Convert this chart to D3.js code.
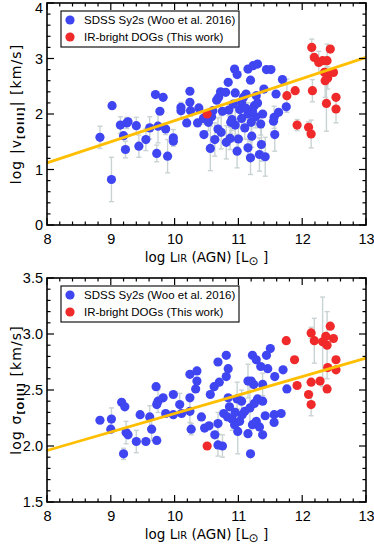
<!DOCTYPE html>
<html><head><meta charset="utf-8">
<script src="https://cdn.jsdelivr.net/npm/d3@7"></script>
<style>body{margin:0;background:#fff}svg{display:block}text{font-family:"Liberation Sans",Arial,sans-serif}</style>
</head><body>
<script>
// ---------- DATA ----------
const xTicks = [8, 9, 10, 11, 12, 13];
const topYTicks = [0, 1, 2, 3, 4];
const botYTicks = [1.5, 2.0, 2.5, 3.0, 3.5];
const legendLabels = ["SDSS Sy2s (Woo et al. 2016)", "IR-bright DOGs (This work)"];

// top panel: log |v[OIII]|
const topBlueX = [8.83,9.01,9.02,9.15,9.20,9.23,9.25,9.27,9.40,9.44,9.55,9.61,9.70,9.74,9.72,9.77,9.82,9.86,9.89,9.98,9.98,10.10,10.10,10.19,10.24,10.24,10.25,10.36,10.38,10.45,10.46,10.53,10.56,10.60,10.63,10.66,10.69,10.68,10.73,10.72,10.80,10.81,10.84,10.85,10.87,10.90,10.94,10.98,10.98,11.00,10.95,11.02,11.05,11.08,11.10,11.12,11.15,11.15,11.15,11.19,11.19,11.20,11.21,11.23,11.25,11.28,11.27,11.30,11.30,11.33,11.36,11.38,11.42,11.44,11.51,11.55,11.56,11.57,11.59,11.63,11.69,11.75,10.75,10.88,11.05,11.12,10.92,11.35,11.22,10.58,10.95,11.40];
const topBlueY = [1.58,0.82,2.15,1.80,1.61,1.36,1.84,1.86,1.79,1.42,1.54,1.75,2.35,1.78,1.29,2.05,2.30,1.73,1.24,1.57,1.51,2.12,2.06,1.84,2.41,2.21,2.06,1.84,2.11,1.92,1.63,1.85,1.38,2.06,1.54,2.25,2.30,1.73,1.67,2.40,2.39,1.49,2.57,2.07,1.56,1.90,2.81,2.71,1.33,1.55,1.80,2.08,1.92,2.30,1.75,2.36,2.81,1.39,2.00,2.61,1.21,1.85,1.60,2.87,2.15,2.33,1.95,2.90,2.20,1.27,1.45,2.00,1.23,2.80,2.80,1.87,1.94,1.63,2.36,2.03,2.62,2.13,2.05,1.85,2.20,2.10,2.18,1.82,2.05,1.95,2.38,2.45];
const topBlueErr = [0.2,0.4,0,0.15,0,0.15,0.1,0,0.15,0.2,0.2,0.2,0,0.3,0.15,0,0,0.1,0.3,0.15,0,0,0.15,0,0,0,0.1,0,0,0.1,0,0.15,0.4,0,0.3,0,0,0.2,0.3,0,0,0.3,0,0.1,0.2,0.2,0,0,0.3,0.2,0.3,0,0.15,0,0.2,0,0,0.15,0.2,0,0.3,0.25,0.2,0,0,0,0.2,0,0,0.3,0.3,0,0.35,0,0,0,0.2,0.3,0,0,0,0,0,0.2,0,0.2,0,0.2,0,0,0,0];
const topRedX = [12.15,12.19,12.26,12.32,12.39,12.44,12.35,12.40,12.49,12.36,11.89,12.16,11.76,12.53,12.53,12.38,10.51,11.92,12.10,12.14];
const topRedY = [3.20,3.02,2.93,2.96,2.96,3.17,2.75,2.65,2.75,2.60,2.42,2.42,2.33,2.30,2.09,2.19,2.00,1.80,1.76,1.64];
const topRedErr = [0.15,0,0.2,0,0.3,0,0,0.2,0,0.3,0,0.2,0.3,0,0.25,0.5,0,0.1,0.1,0.25];
const topFitX = [8, 13];
const topFitY = [1.12, 3.02];

// bottom panel: log sigma[OIII]
const botBlueX = [8.83,9.01,9.00,9.17,9.22,9.24,9.27,9.20,9.40,9.46,9.55,9.61,9.64,9.72,9.72,9.71,9.74,9.82,9.86,9.98,9.98,10.08,10.11,10.24,10.24,10.24,10.26,10.33,10.35,10.35,10.42,10.47,10.54,10.56,10.62,10.63,10.68,10.68,10.68,10.70,10.75,10.77,10.81,10.81,10.84,10.84,10.86,10.83,10.90,10.94,10.98,10.99,11.02,11.06,11.10,11.15,11.18,11.19,11.20,11.22,11.22,11.24,11.28,11.28,11.30,11.33,11.35,11.38,11.38,11.38,11.42,11.44,11.46,11.50,11.56,11.56,11.57,11.67,11.70,11.76,11.15,11.25,11.05,10.95];
const botBlueY = [2.23,2.24,2.15,2.39,2.35,2.12,2.10,1.93,2.04,2.28,2.04,2.26,2.15,2.05,2.37,2.53,2.40,2.43,2.29,2.46,2.28,2.37,2.29,2.64,2.43,2.31,2.15,2.51,2.67,2.58,2.26,2.16,2.18,2.46,2.53,2.10,2.75,2.20,2.01,2.57,2.00,2.29,2.81,2.62,2.69,2.43,2.35,2.26,2.24,2.19,2.42,2.13,2.22,2.28,2.31,2.11,2.34,1.93,2.58,2.81,2.19,2.55,2.77,2.22,2.42,2.17,2.71,2.55,2.40,2.10,2.27,2.81,2.69,2.87,2.28,2.21,2.62,2.29,2.68,2.51,2.58,2.38,2.40,2.30];
const botBlueErr = [0,0.1,0,0,0,0.1,0,0.05,0.1,0,0,0.1,0.1,0,0,0,0.1,0,0,0,0,0.1,0,0,0,0.1,0.05,0,0,0,0,0,0,0,0,0,0,0.1,0.1,0,0.1,0,0,0,0,0,0,0,0.1,0,0.15,0.2,0,0,0,0,0.2,0,0,0,0,0,0,0,0,0,0,0.1,0,0,0,0,0,0,0,0,0,0,0,0,0.15,0,0.1,0];
const botRedX = [11.75,11.88,11.92,12.14,12.19,12.32,12.37,12.44,12.49,12.39,12.53,12.53,12.40,12.14,12.28,12.39,12.10,12.14,10.51];
const botRedY = [2.94,2.77,2.54,3.01,2.94,2.93,2.98,3.07,2.96,2.90,2.77,2.68,2.70,2.57,2.58,2.51,2.46,2.37,2.00];
const botRedErr = [0,0,0,0.05,0.2,0.4,0,0,0,0.3,0,0,0,0,0,0,0,0.1,0];
const botFitX = [8, 13];
const botFitY = [1.96, 2.785];

// ---------- DRAW ----------
const W = 374, H = 545;
const svg = d3.select("body").append("svg").attr("width", W).attr("height", H);
const BLUE = "#3f45f0", RED = "#f02a2a", ERR = "#c9d3d3", FIT = "#ffbf00";
const TFONT = '"DejaVu Sans",Verdana,sans-serif';

function panel(opt) {
  const x = d3.scaleLinear().domain([8, 13]).range([47, 366]);
  const y = d3.scaleLinear().domain(opt.ydom).range([opt.y1, opt.y0]);
  const g = svg.append("g");

  // error bars
  const eg = g.append("g").attr("stroke", ERR).attr("stroke-width", 1.4).attr("fill", "none");
  function errs(X, Y, E) {
    X.forEach((xv, i) => {
      if (!E[i]) return;
      const px = x(xv), ya = y(Y[i] + E[i]), yb = y(Y[i] - E[i]);
      eg.append("line").attr("x1", px).attr("x2", px).attr("y1", ya).attr("y2", yb);
      eg.append("line").attr("x1", px - 2.5).attr("x2", px + 2.5).attr("y1", ya).attr("y2", ya);
      eg.append("line").attr("x1", px - 2.5).attr("x2", px + 2.5).attr("y1", yb).attr("y2", yb);
    });
  }
  errs(opt.bx, opt.by, opt.be);
  errs(opt.rx, opt.ry, opt.re);

  // points
  g.append("g").selectAll("circle").data(opt.bx).join("circle")
    .attr("cx", (d) => x(d)).attr("cy", (d, i) => y(opt.by[i])).attr("r", 4.6).attr("fill", BLUE);
  g.append("g").selectAll("circle").data(opt.rx).join("circle")
    .attr("cx", (d) => x(d)).attr("cy", (d, i) => y(opt.ry[i])).attr("r", 4.6).attr("fill", RED);

  // fit line
  g.append("line").attr("x1", x(opt.fx[0])).attr("x2", x(opt.fx[1]))
    .attr("y1", y(opt.fy[0])).attr("y2", y(opt.fy[1]))
    .attr("stroke", FIT).attr("stroke-width", 2.8);

  // axes (inward ticks, all 4 sides)
  const minorX = d3.range(8, 13.001, 0.2);
  const minorY = d3.range(opt.ydom[0], opt.ydom[1] + 1e-6, opt.minor);
  const ax = g.append("g").attr("stroke", "#000").attr("stroke-width", 1.2);
  minorX.forEach(v => {
    const isMaj = Math.abs(v - Math.round(v)) < 1e-6;
    const L = isMaj ? 7 : 3.5;
    ax.append("line").attr("x1", x(v)).attr("x2", x(v)).attr("y1", opt.y1).attr("y2", opt.y1 - L);
    ax.append("line").attr("x1", x(v)).attr("x2", x(v)).attr("y1", opt.y0).attr("y2", opt.y0 + L);
  });
  minorY.forEach(v => {
    const isMaj = opt.yticks.some(t => Math.abs(t - v) < 1e-6);
    const L = isMaj ? 7 : 3.5;
    ax.append("line").attr("x1", 47).attr("x2", 47 + L).attr("y1", y(v)).attr("y2", y(v));
    ax.append("line").attr("x1", 366).attr("x2", 366 - L).attr("y1", y(v)).attr("y2", y(v));
  });
  g.append("rect").attr("x", 47).attr("y", opt.y0).attr("width", 319).attr("height", opt.y1 - opt.y0)
    .attr("fill", "none").attr("stroke", "#000").attr("stroke-width", 1.6);

  // tick labels via d3 axes (tick lines hidden)
  const xa = d3.axisBottom(x).tickValues(xTicks).tickSize(0).tickPadding(9).tickFormat(d3.format("d"));
  const xg = g.append("g").attr("transform", `translate(0,${opt.y1})`).call(xa);
  xg.select(".domain").remove();
  xg.selectAll("text").attr("font-size", 14.5).attr("fill", "#000").style("font-family", '"Liberation Sans",Arial,sans-serif');
  const ya = d3.axisLeft(y).tickValues(opt.yticks).tickSize(0).tickPadding(4).tickFormat(opt.yfmt);
  const yg = g.append("g").attr("transform", `translate(47,0)`).call(ya);
  yg.select(".domain").remove();
  yg.selectAll("text").attr("font-size", 14.5).attr("fill", "#000").style("font-family", '"Liberation Sans",Arial,sans-serif');
  yg.selectAll("text").filter(d => d === opt.ydom[1]).attr("dy", opt.topDy);

  // x title
  const xt = g.append("text").attr("x", 206.5).attr("y", opt.y1 + 37).attr("text-anchor", "middle")
    .attr("font-size", 13.5).style("font-family", TFONT);
  xt.append("tspan").text("log  L");
  xt.append("tspan").attr("font-size", 10).text("IR");
  xt.append("tspan").text(" (AGN)  [L");
  xt.append("tspan").attr("font-size", 12).attr("dy", 3).text("\u2299");
  xt.append("tspan").attr("dy", -3).text(" ]");

  // y title
  const yc = (opt.y0 + opt.y1) / 2;
  const yt = g.append("text").attr("transform", `translate(21,${yc}) rotate(-90)`).attr("text-anchor", "middle")
    .attr("font-size", 14).attr("letter-spacing", 1.1).style("font-family", TFONT);
  yt.append("tspan").text(opt.ylabA);
  yt.append("tspan").attr("font-size", 9).attr("font-weight", "bold").attr("dy", 3).text("[OIII]");
  yt.append("tspan").attr("dy", -3).text(opt.ylabB);

  // legend
  const lg = g.append("g");
  lg.append("rect").attr("x", 61).attr("y", opt.y0 + 8).attr("width", 178).attr("height", 36)
    .attr("fill", "#fff").attr("stroke", "#000").attr("stroke-width", 1.1);
  [BLUE, RED].forEach((c, i) => {
    const cy = opt.y0 + 17 + i * 17;
    lg.append("circle").attr("cx", 70).attr("cy", cy).attr("r", 4.6).attr("fill", c);
    lg.append("text").attr("x", 84).attr("y", cy + 4).attr("font-size", 11.5).text(legendLabels[i]);
  });
}

panel({ ydom: [0, 4], y0: 3, y1: 225, yticks: topYTicks, minor: 0.2, yfmt: d3.format("d"), topDy: "0.62em",
  bx: topBlueX, by: topBlueY, be: topBlueErr, rx: topRedX, ry: topRedY, re: topRedErr,
  fx: topFitX, fy: topFitY, ylabA: "log  |v", ylabB: "|  [km/s]" });
panel({ ydom: [1.5, 3.5], y0: 278, y1: 502, yticks: botYTicks, minor: 0.1, yfmt: d3.format(".1f"), topDy: "0.32em",
  bx: botBlueX, by: botBlueY, be: botBlueErr, rx: botRedX, ry: botRedY, re: botRedErr,
  fx: botFitX, fy: botFitY, ylabA: "log  \u03c3", ylabB: "  [km/s]" });
</script>
</body></html>
